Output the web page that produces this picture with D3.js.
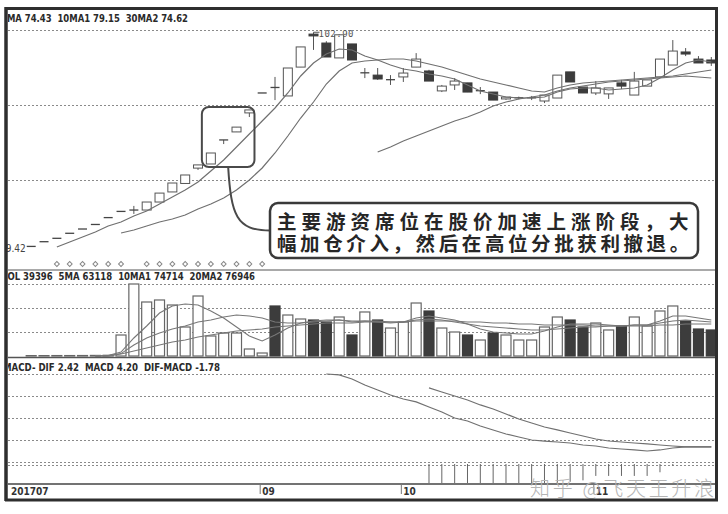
<!DOCTYPE html>
<html><head><meta charset="utf-8">
<script src="https://cdn.jsdelivr.net/npm/d3@7"></script>
<style>html,body{margin:0;padding:0;background:#fff;}svg{display:block;}</style>
</head><body><svg id="c" width="728" height="514"></svg>
<script>
// ---------- DATA ----------
const openP  = [9.42,11.48,12.96,15.15,17.02,19.0,22.0,24.7,25.3,25.3, 28.8,33.2,36.9,43.6,45.4,55.9,59.4,67.7,76.4,79.2, 75.1,87.7,102.1,98.2,91.7,97.8,85.0,84.2,82.1,83.4, 87.7,86.0,77.3,79.9,80.8,77.2,76.8,73.8,74.1,74.1, 72.9,74.2,85.6,79.0,76.4,76.0,80.8,75.5,79.4,83.4, 88.6,94.3,91.2,90.8];
const highP  = [9.42,11.48,12.96,15.15,17.02,19.0,22.0,24.7,27.1,28.8, 32.7,37.1,40.6,45.0,50.2,55.9,61.5,69.0,76.4,83.4, 87.3,96.5,102.9,99.0,102.0,97.8,87.3,87.3,84.2,87.3, 93.8,86.5,79.9,82.9,80.8,79.0,76.8,74.6,74.8,75.1, 75.5,84.2,85.6,79.0,81.6,78.6,82.1,85.6,82.1,91.2, 99.5,96.0,92.5,92.1];
const lowP   = [9.42,11.48,12.96,15.15,17.02,19.0,22.0,24.7,23.6,25.3, 28.8,33.2,36.9,42.8,45.4,54.1,59.4,65.9,76.4,73.3, 75.1,87.7,95.2,92.1,91.7,90.8,82.9,82.1,79.9,81.2, 87.7,81.6,76.8,77.7,76.8,75.9,73.3,73.4,73.6,73.3, 72.0,74.2,81.2,76.4,75.5,73.8,78.1,75.5,79.4,83.4, 88.6,92.5,89.5,88.2];
const closeP = [9.42,11.48,12.96,15.15,17.02,19.0,22.0,24.7,25.3,28.8, 32.7,37.1,40.6,45.0,50.2,55.9,61.5,69.0,76.4,78.8, 87.3,96.5,101.3,92.1,101.8,90.8,85.2,82.5,82.2,85.1, 91.2,81.6,79.4,81.6,76.8,77.4,73.3,74.6,74.3,74.3, 75.5,84.2,81.2,76.4,78.6,78.6,79.4,81.6,82.1,91.2, 94.7,93.4,89.5,89.5];

const ma5  = [null,null,9.17,11.35,13.53,15.71,18.33,20.08,22.70,24.88, 27.94,30.99,34.05,37.54,42.34,47.14,52.82,58.49,64.17,69.84, 76.39,83.81,89.48,93.41,95.59,95.16,92.54,90.79,88.61,86.86, 85.99,84.68,83.81,82.50,79.88,77.26,75.95,74.64,74.20,74.20, 74.64,76.82,78.13,78.57,78.57,77.70,78.13,78.57,79.88,82.93, 86.43,89.48,90.79,89.92];
const ma10 = [null,null,null,null,null,null,null,15.28,16.59,18.33, 20.08,21.39,23.13,25.75,27.94,30.55,34.05,38.41,43.65,50.20, 57.62,65.47,72.46,80.31,85.99,89.48,90.35,90.79,91.23,91.23, 90.35,89.04,87.73,85.99,84.24,82.50,81.19,79.88,78.57,77.26, 76.82,78.57,79.88,80.75,81.19,81.62,82.06,82.50,82.93,83.37, 83.81,84.68,85.55,86.43];
const ma30 = [null,null,null,null,null,null,null,null,null,null, null,null,null,null,null,null,null,null,null,null, null,null,null,null,null,null,null,50.63,52.82,55.43, 57.62,59.80,61.98,64.17,65.91,68.09,70.71,72.46,73.77,74.64, 75.51,77.26,78.57,79.44,80.31,81.19,81.62,82.06,82.50,82.93, 83.37,83.81,83.37,82.93];

const volume = [800,800,900,900,1000,1200,1500,43750,150000,112500, 116700,106250,60400,125000,41700,47900,47900,14600,6250,104200, 85400,77100,75000,70800,81250,43750,91700,75000,58300,70800, 110400,93750,58300,50000,43750,33300,47900,43750,33300,33300, 60400,81250,75000,60400,68750,54200,62500,81250,62500,93750, 104200,72900,56250,54200];
const volMa5  = [null,null,null,null,null,300,900,8300,37500,62500, 89600,104200,108300,106250,93750,79200,60400,41700,31250,43750, 58300,68750,72900,75000,75000,70800,72900,70800,68750,70800, 79200,83300,79200,75000,66700,56250,50000,47900,45800,45800, 52100,60400,66700,66700,66700,64600,62500,64600,64600,72900, 83300,83300,79200,75000];
const volMa10 = [null,null,null,null,null,200,600,5000,22900,37500, 47900,56250,62500,70800,75000,81250,85400,83300,79200,70800, 68750,68750,70800,72900,75000,72900,72900,72900,70800,70800, 75000,77100,75000,70800,66700,62500,60400,58300,56250,54200, 54200,56250,58300,60400,60400,62500,62500,64600,64600,68750, 72900,75000,72900,70800];
const volMa20 = [null,null,null,null,null,100,300,4200,10400,16700, 22900,29200,33300,39600,43750,47900,52100,54200,56250,60400, 62500,64600,66700,68750,68750,68750,70800,70800,70800,70800, 72900,72900,72900,72900,70800,70800,68750,68750,66700,66700, 64600,64600,64600,64600,62500,62500,62500,62500,62500,64600, 64600,66700,66700,66700];

const difStart = 23;
const dif = [12.0,11.87,11.32,10.50,9.82,9.14,8.59,8.19,7.50,6.82,6.00,5.59,4.91,4.37,3.82,3.41,3.00,2.86,2.73,2.59,2.32,2.18,1.91,1.77,1.64,1.50,1.64,1.91,2.05,2.05,2.05];
const deaStart = 31;
const dea = [10.10,9.55,9.00,8.46,7.78,7.23,6.55,5.87,5.32,4.77,4.37,3.96,3.55,3.14,2.86,2.73,2.59,2.46,2.32,2.18,2.05,2.05,2.05];
const histStart = 31;
const macdHist = [-5.2,-5.5,-6.0,-5.7,-5.7,-5.7,-5.5,-4.9,-4.6,-3.8,-3.3,-2.7,-2.5,-1.9,-1.9,-1.9,-1.9,-1.9,-1.4,-0.5];

const markerIdx = [2,3,4,5,6,7,9,10,11,12,13,14,15,16,17,18];
const dateTicks = [0,18,29,44];
const dateLabels = ["201707","09","10","11"];
const priceGrid = [38.4,71.2,104.0];
const volGrid = [50000,100000,150000];
const macdGrid = [0,3,6,9,12];

const priceHeader = "5MA 74.43  10MA1 79.15  30MA2 74.62";
const volHeader = "VOL 39396  5MA 63118  10MA1 74714  20MA2 76946";
const macdHeader = "MACD- DIF 2.42  MACD 4.20  DIF-MACD -1.78";
const lowLabel = "9.42", highLabel = "102.90";
const noteLines = ["主要游资席位在股价加速上涨阶段，大","幅加仓介入，然后在高位分批获利撤退。"];
const watermark = "知乎 @飞天王升浪";

// ---------- SCALES ----------
const N = closeP.length;
const xs = d3.scaleLinear().domain([0, N-1]).range([31.2, 711.3]);
const py = d3.scaleLinear().domain([0, 110]).range([268, 16]);
const vy = d3.scaleLinear().domain([0, 150000]).range([356, 284]);
const my = d3.scaleLinear().domain([0, 12]).range([462, 374]);
const L = 8, R = 715;

const svg = d3.select("#c");
svg.append("rect").attr("width",728).attr("height",514).attr("fill","#fff");
const defs = svg.append("defs");
defs.append("clipPath").attr("id","cp").append("rect").attr("x",L).attr("y",24).attr("width",R-L).attr("height",246);
defs.append("clipPath").attr("id","cm").append("rect").attr("x",L).attr("y",372).attr("width",R-L).attr("height",111);
defs.append("clipPath").attr("id","ch").append("rect").attr("x",L).attr("y",0).attr("width",R-L).attr("height",514);

const gridCol = "#8a8a8a";
function hgrid(ys){
  svg.append("g").selectAll("line").data(ys).join("line")
    .attr("x1",L).attr("x2",R).attr("y1",d=>d).attr("y2",d=>d)
    .attr("stroke",gridCol).attr("stroke-width",1).attr("stroke-dasharray","2,2");
}
hgrid(priceGrid.map(v=>Math.round(py(v))+0.5));
hgrid(volGrid.map(v=>Math.round(vy(v))+0.5));
hgrid(macdGrid.map(v=>Math.round(my(v))+0.5));
hgrid([Math.round(my(0))+3.5]);

// ---------- PRICE PANEL ----------
const isUp = i => closeP[i] >= openP[i];
const gp = svg.append("g").attr("clip-path","url(#cp)");
const bw = 9;
gp.selectAll(".wick").data(d3.range(N)).join("line")
  .attr("x1",i=>xs(i)).attr("x2",i=>xs(i))
  .attr("y1",i=>py(highP[i])).attr("y2",i=>py(lowP[i]))
  .attr("stroke","#555").attr("stroke-width",1);
const bodyIdx = d3.range(N).filter(i=>Math.abs(py(openP[i])-py(closeP[i]))>=1.5);
const flatIdx = d3.range(N).filter(i=>Math.abs(py(openP[i])-py(closeP[i]))<1.5);
gp.selectAll(".body").data(bodyIdx).join("rect")
  .attr("x",i=>xs(i)-bw/2).attr("width",bw)
  .attr("y",i=>py(Math.max(openP[i],closeP[i])))
  .attr("height",i=>Math.abs(py(openP[i])-py(closeP[i])))
  .attr("fill",i=>isUp(i)?"#fff":"#3c3c3c")
  .attr("stroke",i=>isUp(i)?"#555":"#3c3c3c").attr("stroke-width",1);
gp.selectAll(".flat").data(flatIdx).join("line")
  .attr("x1",i=>xs(i)-bw/2).attr("x2",i=>xs(i)+bw/2)
  .attr("y1",i=>py(closeP[i])).attr("y2",i=>py(closeP[i]))
  .attr("stroke","#444").attr("stroke-width",1.3);

const lineGen = sc => d3.line().defined(d=>d!=null).x((d,i)=>xs(i)).y(d=>sc(d));
[ma5,ma10,ma30].forEach(arr=>{
  gp.append("path").attr("d",lineGen(py)(arr)).attr("fill","none")
    .attr("stroke","#707070").attr("stroke-width",1.2);
});

// low / high labels
const iLow = d3.minIndex(lowP), iHigh = d3.maxIndex(highP);
svg.append("text").attr("x",xs(iLow)-bw/2-1).attr("y",py(lowP[iLow])+6)
  .attr("text-anchor","end").attr("font-family","Liberation Sans Narrow, DejaVu Sans Condensed").attr("font-size",10)
  .attr("fill","#444").text(lowLabel);
svg.append("line").attr("x1",xs(iHigh)).attr("x2",xs(iHigh)+6).attr("y1",py(highP[iHigh])).attr("y2",py(highP[iHigh])).attr("stroke","#555");
svg.append("text").attr("x",xs(iHigh)+5).attr("y",py(highP[iHigh])+5)
  .attr("font-family","DejaVu Sans Mono").attr("font-size",9).attr("letter-spacing",0.5)
  .attr("fill","#555").text(highLabel);

// markers
svg.append("g").selectAll("path").data(markerIdx).join("path")
  .attr("d",d3.symbol(d3.symbolSquare,12)())
  .attr("transform",i=>`translate(${xs(i)},264) rotate(45)`)
  .attr("fill","none").attr("stroke","#888").attr("stroke-width",1);

// ---------- VOLUME PANEL ----------
const gv = svg.append("g");
gv.selectAll("rect").data(d3.range(N)).join("rect")
  .attr("x",i=>xs(i)-5).attr("width",10)
  .attr("y",i=>vy(volume[i])).attr("height",i=>vy(0)-vy(volume[i]))
  .attr("fill",i=>isUp(i)?"#fff":"#3c3c3c")
  .attr("stroke",i=>isUp(i)?"#666":"#3c3c3c").attr("stroke-width",1.2);
[volMa5,volMa10,volMa20].forEach(arr=>{
  gv.append("path").attr("d",lineGen(vy)(arr)).attr("fill","none")
    .attr("stroke","#777").attr("stroke-width",1.1);
});

// ---------- MACD PANEL ----------
const gm = svg.append("g").attr("clip-path","url(#cm)");
gm.selectAll(".h").data(macdHist).join("line")
  .attr("x1",(d,k)=>xs(histStart+k)).attr("x2",(d,k)=>xs(histStart+k))
  .attr("y1",my(0)+2).attr("y2",d=>my(d))
  .attr("stroke","#666").attr("stroke-width",1);
const mline = start => d3.line().x((d,k)=>xs(start+k)).y(d=>my(d));
gm.append("path").attr("d",mline(difStart)(dif)).attr("fill","none").attr("stroke","#707070").attr("stroke-width",1.2);
gm.append("path").attr("d",mline(deaStart)(dea)).attr("fill","none").attr("stroke","#707070").attr("stroke-width",1.2);

// ---------- HEADERS ----------
const hdr = svg.append("g").attr("clip-path","url(#ch)")
  .attr("font-family","Liberation Sans Narrow, DejaVu Sans Condensed").attr("font-weight","bold")
  .attr("font-size",10.5).attr("fill","#2a2a2a");
hdr.append("text").attr("x",1).attr("y",22).attr("textLength",187).attr("lengthAdjust","spacingAndGlyphs").attr("xml:space","preserve").text(priceHeader);
hdr.append("text").attr("x",1).attr("y",280).attr("textLength",254).attr("lengthAdjust","spacingAndGlyphs").attr("xml:space","preserve").text(volHeader);
hdr.append("text").attr("x",3).attr("y",371).attr("textLength",217).attr("lengthAdjust","spacingAndGlyphs").attr("xml:space","preserve").text(macdHeader);

// ---------- SEPARATORS / AXIS ----------
svg.append("line").attr("x1",L).attr("x2",R).attr("y1",270).attr("y2",270).attr("stroke","#555").attr("stroke-width",1.2);
svg.append("line").attr("x1",L).attr("x2",R).attr("y1",357.5).attr("y2",357.5).attr("stroke","#555").attr("stroke-width",1.5);
svg.append("line").attr("x1",L).attr("x2",R).attr("y1",484).attr("y2",484).attr("stroke","#444").attr("stroke-width",1.5);
const ax = svg.append("g").attr("font-family","Liberation Sans Narrow, DejaVu Sans Condensed").attr("font-weight","bold").attr("font-size",10).attr("fill","#333");
dateTicks.forEach((t,k)=>{
  const x = k===0 ? L+3 : xs(t);
  if(k>0) ax.append("line").attr("x1",x-2).attr("x2",x-2).attr("y1",484).attr("y2",494).attr("stroke","#777");
  ax.append("text").attr("x",x).attr("y",495).text(dateLabels[k]);
});

// ---------- ANNOTATION ----------
const focus = {i0:13.3, i1:17.4, pLow:44.1, pHigh:70.3};
const fx0 = xs(focus.i0), fx1 = xs(focus.i1), fy0 = py(focus.pHigh), fy1 = py(focus.pLow);
svg.append("rect").attr("x",fx0).attr("y",fy0).attr("width",fx1-fx0).attr("height",fy1-fy0)
  .attr("rx",7).attr("fill","none").attr("stroke","#4a4a4a").attr("stroke-width",2);
const box = {x:270, y:203, w:428, h:55};
const sx = (fx0+fx1)/2;
svg.append("path").attr("d",`M${sx},${fy1} C${sx+3},${fy1+48} ${sx+8},${box.y+box.h/2} ${box.x},${box.y+box.h/2}`)
  .attr("fill","none").attr("stroke","#4a4a4a").attr("stroke-width",2);
svg.append("rect").attr("x",box.x).attr("y",box.y).attr("width",box.w).attr("height",box.h)
  .attr("rx",8).attr("fill","#fff").attr("stroke","#3a3a3a").attr("stroke-width",2.5);
const note = svg.append("text").attr("font-family","Noto Sans CJK SC").attr("font-weight",700)
  .attr("font-size",19.5).attr("fill","#262626");
const noteSpacing = [5.0, 3.6];
noteLines.forEach((t,k)=>{
  note.append("tspan").attr("x",box.x+7).attr("y",box.y+26+k*22)
    .attr("letter-spacing",noteSpacing[k]).text(t);
});

// ---------- WATERMARK ----------
svg.append("text").attr("x",530).attr("y",496).attr("font-family","Noto Sans CJK SC").attr("font-weight",300)
  .attr("font-size",20).attr("fill","#b4b4b4").attr("textLength",184).attr("lengthAdjust","spacing").text(watermark);

// ---------- FRAME ----------
const fr = svg.append("g").attr("stroke","#2e2e2e").attr("fill","none");
fr.append("line").attr("x1",6).attr("x2",6).attr("y1",7).attr("y2",501).attr("stroke-width",3.5);
fr.append("line").attr("x1",716.5).attr("x2",716.5).attr("y1",7).attr("y2",501).attr("stroke-width",3);
fr.append("line").attr("x1",5).attr("x2",718).attr("y1",8.5).attr("y2",8.5).attr("stroke-width",3);
fr.append("line").attr("x1",5).attr("x2",718).attr("y1",500).attr("y2",500).attr("stroke-width",3);
</script></body></html>
